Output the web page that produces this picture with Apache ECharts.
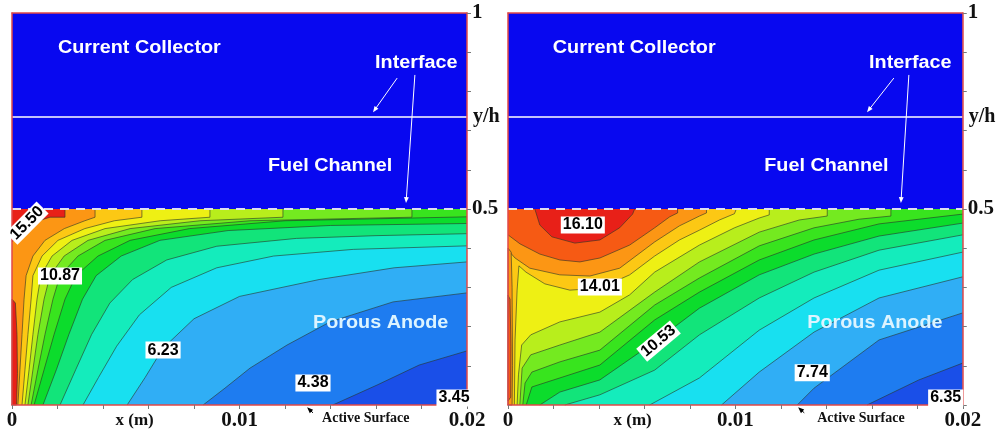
<!DOCTYPE html>
<html lang="en">
<head>
<meta charset="utf-8">
<script src="https://cdn.jsdelivr.net/npm/echarts@6/dist/echarts.min.js"></script>
<style>
    * { margin: 0; padding: 0; }
    body { background: #fff; }
</style>
</head>
<body>
<div id="main" style="width:997px;height:432px;"></div>
<script>
// x is in mm along the cell (axis labels show metres), y is y/h
var channelBlue = '#0808f0';
var frameRed = '#e04848';
var lineColor = 'rgba(40,50,40,0.75)';
var anodeTop = 0.5;
var interfaceY = 0.735;

// colour of each contour band, lowest to highest
var bandColors = ['#1a4fe8', '#1e7cf0', '#30aef5', '#18e0f0', '#14ecbc', '#12e47a', '#0ee050', '#0cdc2c',
    '#38e41e', '#74ea20', '#b8ee1c', '#eef014', '#fcc814', '#fc9614', '#f65a14', '#e82018'];

// ---- left panel ----
var leftLevels = [4.38, 5.30, 6.23, 7.16, 8.08, 9.01, 9.94, 10.87, 11.79, 12.72, 13.65, 14.57, 15.50];
var leftBand = [1, 2, 3, 4, 5, 7, 8, 9, 10, 11, 12, 13, 15];
var leftLines = [
    [[14.1, 0], [16.05, 0.051], [17.9, 0.102], [20, 0.138]],
    [[8.40, 0], [9.36, 0.043], [10.46, 0.094], [12.09, 0.153], [13.98, 0.212], [16.75, 0.263], [20, 0.286]],
    [[5.06, 0], [5.85, 0.07], [6.64, 0.145], [8.0, 0.22], [10.0, 0.277], [13.5, 0.32], [16.8, 0.35], [20, 0.365]],
    [[3.12, 0], [3.8, 0.07], [4.6, 0.15], [5.6, 0.23], [7.0, 0.30], [9.0, 0.35], [11.5, 0.38], [15, 0.397], [20, 0.406]],
    [[2.11, 0], [2.8, 0.09], [3.5, 0.18], [4.3, 0.26], [5.3, 0.32], [6.8, 0.37], [9, 0.405], [12.5, 0.425], [16, 0.432], [20, 0.437]],
    [[1.36, 0], [1.95, 0.09], [2.5, 0.18], [3.1, 0.27], [3.7, 0.33], [4.8, 0.38], [6.5, 0.42], [9.5, 0.445], [14, 0.458], [20, 0.463]],
    [[0.97, 0], [1.41, 0.09], [1.85, 0.18], [2.33, 0.27], [2.81, 0.33], [3.78, 0.38], [5.19, 0.42], [7.8, 0.45], [12, 0.47], [20, 0.48]],
    [[0.84, 0], [1.14, 0.09], [1.45, 0.18], [1.80, 0.27], [2.11, 0.33], [2.90, 0.38], [4.09, 0.42], [6.29, 0.45], [10.46, 0.47], [17.58, 0.479], [17.58, 0.5]],
    [[0.70, 0], [0.92, 0.09], [1.14, 0.18], [1.41, 0.27], [1.67, 0.33], [2.29, 0.38], [3.34, 0.42], [5.19, 0.45], [8.26, 0.47], [11.91, 0.479], [11.91, 0.5]],
    [[0.57, 0], [0.75, 0.09], [0.92, 0.18], [1.10, 0.27], [1.27, 0.33], [1.76, 0.38], [2.64, 0.42], [4.09, 0.45], [6.51, 0.47], [8.70, 0.479], [8.70, 0.5]],
    [[0.44, 0], [0.57, 0.09], [0.70, 0.18], [0.84, 0.27], [0.92, 0.33], [1.32, 0.38], [2.02, 0.42], [3.2, 0.45], [4.5, 0.47], [5.71, 0.479], [5.71, 0.5]],
    [[0.26, 0], [0.35, 0.09], [0.44, 0.18], [0.53, 0.27], [0.62, 0.33], [0.92, 0.38], [1.45, 0.42], [2.3, 0.45], [3.2, 0.47], [3.65, 0.479], [3.65, 0.5]],
    [[0, 0.416], [0.44, 0.441], [1.01, 0.467], [1.67, 0.479], [2.33, 0.479], [2.33, 0.5]]
];
var leftPieces = [
    [12, [[0, 0], [0, 0.27], [0.15, 0.26], [0.22, 0.18], [0.24, 0.08], [0.2, 0]]]
];
var leftTags = [[15.50, 0.66, 0.464, 45], [10.87, 2.11, 0.329, 0], [6.23, 6.64, 0.140, 0], [4.38, 13.23, 0.056, 0], [3.45, 19.43, 0.018, 0]];
var leftNotes = [
    ['Current Collector', 2.02, 0.910, 'zone'], ['Interface', 15.96, 0.873, 'zone'],
    ['Fuel Channel', 11.25, 0.610, 'zone'], ['Porous Anode', 13.23, 0.209, 'anode'],
    ['x (m)', 5.39, -0.041, 'axis'], ['Active Surface', 13.63, -0.033, 'small'], ['y/h', 20.26, 0.735, 'yh']
];
var leftArrows = [[16.93, 0.834, 15.87, 0.747, '#fff'], [17.71, 0.842, 17.32, 0.515, '#fff'], [13.23, -0.020, 12.97, -0.006, '#000']];

// ---- right panel ----
var rightLevels = [7.05, 7.74, 8.44, 9.14, 9.83, 10.53, 11.23, 11.92, 12.62, 13.31, 14.01, 14.71, 15.40, 16.10];
var rightBand = [1, 2, 3, 4, 5, 7, 8, 9, 10, 11, 12, 13, 14, 15];
var rightLines = [
    [[15.79, 0], [18.07, 0.064], [20, 0.107]],
    [[12.72, 0], [13.46, 0.043], [16.32, 0.166], [20, 0.235]],
    [[9.39, 0], [11.05, 0.084], [13.46, 0.186], [16.32, 0.273], [20, 0.327]],
    [[6.23, 0], [8.42, 0.069], [11.05, 0.191], [13.46, 0.273], [16.32, 0.344], [20, 0.390]],
    [[2.50, 0], [4.04, 0.026], [6.45, 0.089], [8.42, 0.179], [11.05, 0.273], [13.46, 0.339], [16.32, 0.395], [20, 0.434]],
    [[1.40, 0], [2.28, 0.033], [4.04, 0.064], [6.45, 0.161], [8.42, 0.247], [11.05, 0.332], [13.46, 0.385], [16.32, 0.431], [20, 0.464]],
    [[0.80, 0], [1.05, 0.046], [2.28, 0.069], [4.04, 0.102], [6.45, 0.217], [8.42, 0.288], [11.05, 0.370], [13.46, 0.421], [16.32, 0.462], [20, 0.487]],
    [[0.65, 0], [0.75, 0.056], [1.05, 0.084], [2.28, 0.110], [4.04, 0.140], [6.45, 0.255], [8.42, 0.324], [11.05, 0.406], [13.46, 0.452], [15.44, 0.474], [16.84, 0.482], [16.84, 0.5]],
    [[0.52, 0], [0.62, 0.094], [1.0, 0.128], [2.28, 0.153], [4.04, 0.186], [6.45, 0.288], [8.42, 0.365], [11.05, 0.441], [12.81, 0.472], [14.04, 0.482], [14.04, 0.5]],
    [[0.40, 0], [0.46, 0.077], [0.60, 0.153], [1.0, 0.179], [2.28, 0.212], [4.04, 0.237], [5.35, 0.281], [6.45, 0.339], [8.42, 0.408], [9.96, 0.452], [11.05, 0.477], [11.49, 0.485], [11.49, 0.5]],
    [[0.28, 0], [0.31, 0.166], [0.40, 0.293], [0.48, 0.355], [0.79, 0.339], [1.62, 0.309], [2.72, 0.293], [4.04, 0.298], [5.35, 0.332], [6.45, 0.380], [7.54, 0.421], [8.42, 0.446], [9.30, 0.472], [9.96, 0.488], [10.04, 0.5]],
    [[0, 0.395], [0.31, 0.375], [0.96, 0.349], [2.28, 0.332], [3.60, 0.329], [4.91, 0.349], [6.45, 0.416], [7.54, 0.457], [8.42, 0.482], [8.73, 0.490], [8.73, 0.5]],
    [[0, 0.434], [0.53, 0.411], [1.40, 0.385], [2.28, 0.370], [3.16, 0.365], [4.04, 0.375], [5.35, 0.408], [6.45, 0.452], [7.11, 0.480], [7.46, 0.490], [7.46, 0.5]],
    [[1.18, 0.5], [1.40, 0.459], [1.93, 0.429], [2.94, 0.413], [4.04, 0.421], [4.91, 0.452], [5.48, 0.487], [5.57, 0.5]]
];
var rightPieces = [
    [11, [[0, 0], [0, 0.40], [0.14, 0.39], [0.18, 0.3], [0.2, 0.1], [0.18, 0]]],
    [12, [[0, 0.01], [0, 0.28], [0.09, 0.27], [0.13, 0.15], [0.12, 0.02]]]
];
var rightTags = [[16.10, 3.29, 0.459, 0], [14.01, 4.04, 0.301, 0], [10.53, 6.62, 0.163, 40], [7.74, 13.38, 0.082, 0], [6.35, 19.25, 0.018, 0]];
var rightNotes = [
    ['Current Collector', 1.97, 0.910, 'zone'], ['Interface', 15.88, 0.873, 'zone'],
    ['Fuel Channel', 11.27, 0.610, 'zone'], ['Porous Anode', 13.16, 0.209, 'anode'],
    ['x (m)', 5.48, -0.041, 'axis'], ['Active Surface', 13.6, -0.033, 'small'], ['y/h', 20.26, 0.735, 'yh']
];
var rightArrows = [[16.97, 0.834, 15.79, 0.747, '#fff'], [17.63, 0.842, 17.28, 0.515, '#fff'], [13.03, -0.020, 12.76, -0.006, '#000']];

var noteStyle = {
    zone: { font: 'bold 18px "Liberation Sans"', fill: '#fff', align: 'left', sx: 1.1 },
    anode: { font: 'bold 18px "Liberation Sans"', fill: '#dcf4ff', align: 'left', sx: 1.1 },
    axis: { font: 'bold 17px "Liberation Serif"', fill: '#111', align: 'center', sx: 1 },
    small: { font: 'bold 14px "Liberation Serif"', fill: '#111', align: 'left', sx: 1 },
    yh: { font: 'bold 20px "Liberation Serif"', fill: '#111', align: 'left', sx: 1 }
};

function buildShapes(lines, bands, pieces) {
    var shapes = [];
    shapes.push({ kind: 'area', pts: [[0, anodeTop], [0, 1], [20, 1], [20, anodeTop]], fill: channelBlue });
    shapes.push({ kind: 'area', pts: [[0, 0], [20, 0], [20, anodeTop], [0, anodeTop]], fill: bandColors[0] });
    lines.forEach(function (line, i) {
        var first = line[0], last = line[line.length - 1];
        var close = [];
        if (last[0] === 20 && last[1] < anodeTop) close.push([20, anodeTop]);
        if (first[1] !== anodeTop) {
            close.push([0, anodeTop]);
            if (first[1] === 0 && first[0] > 0) close.push([0, 0]);
        }
        shapes.push({ kind: 'band', pts: line.concat(close), edge: line, fill: bandColors[bands[i]] });
        pieces.forEach(function (p) {
            if (p[0] === i) {
                shapes.push({ kind: 'band', pts: p[1], edge: p[1].concat([p[1][0]]), fill: bandColors[bands[i]] });
            }
        });
    });
    shapes.push({ kind: 'rule', pts: [[0, interfaceY], [20, interfaceY]], color: '#ffffff', width: 1.5 });
    shapes.push({ kind: 'rule', pts: [[0, anodeTop], [20, anodeTop]], color: '#dcdcf2', width: 2, dash: [9, 7] });
    return shapes;
}

function fieldSeries(axisIdx, shapes) {
    return {
        type: 'custom',
        xAxisIndex: axisIdx,
        yAxisIndex: axisIdx,
        z: 2,
        silent: true,
        clip: false,
        data: shapes.map(function (s, i) { return [i, 0]; }),
        renderItem: function (params, api) {
            var s = shapes[params.dataIndex];
            var toPx = function (p) { return api.coord(p); };
            if (s.kind === 'rule') {
                var a = toPx(s.pts[0]), b = toPx(s.pts[1]);
                return {
                    type: 'line',
                    shape: { x1: a[0], y1: a[1], x2: b[0], y2: b[1] },
                    style: { stroke: s.color, lineWidth: s.width, lineDash: s.dash || null }
                };
            }
            var children = [{
                type: 'polygon',
                shape: { points: s.pts.map(toPx) },
                style: { fill: s.fill, stroke: null }
            }];
            if (s.edge) {
                children.push({
                    type: 'polyline',
                    shape: { points: s.edge.map(toPx) },
                    style: { stroke: lineColor, lineWidth: 0.8, fill: null }
                });
            }
            return { type: 'group', children: children };
        }
    };
}

function notesSeries(axisIdx, tags, notes, arrows) {
    var items = [];
    arrows.forEach(function (a) { items.push({ kind: 'arrow', v: a }); });
    notes.forEach(function (n) { items.push({ kind: 'note', v: n }); });
    tags.forEach(function (t) { items.push({ kind: 'tag', v: t }); });
    return {
        type: 'custom',
        xAxisIndex: axisIdx,
        yAxisIndex: axisIdx,
        z: 6,
        silent: true,
        clip: false,
        data: items.map(function (s, i) { return [i, 0]; }),
        renderItem: function (params, api) {
            var it = items[params.dataIndex], v = it.v;
            if (it.kind === 'arrow') {
                var p1 = api.coord([v[0], v[1]]), p2 = api.coord([v[2], v[3]]);
                var dx = p2[0] - p1[0], dy = p2[1] - p1[1];
                var len = Math.sqrt(dx * dx + dy * dy), ux = dx / len, uy = dy / len;
                var h = 6, w = 2.4;
                return {
                    type: 'group',
                    children: [{
                        type: 'line',
                        shape: { x1: p1[0], y1: p1[1], x2: p2[0] - ux * 3, y2: p2[1] - uy * 3 },
                        style: { stroke: v[4], lineWidth: 1 }
                    }, {
                        type: 'polygon',
                        shape: { points: [p2, [p2[0] - ux * h - uy * w, p2[1] - uy * h + ux * w], [p2[0] - ux * h + uy * w, p2[1] - uy * h - ux * w]] },
                        style: { fill: v[4], stroke: null }
                    }]
                };
            }
            if (it.kind === 'note') {
                var p = api.coord([v[1], v[2]]), st = noteStyle[v[3]];
                return {
                    type: 'text', x: p[0], y: p[1], scaleX: st.sx,
                    style: { text: v[0], font: st.font, fill: st.fill, align: st.align, verticalAlign: 'middle' }
                };
            }
            var q = api.coord([v[1], v[2]]);
            return {
                type: 'text', x: q[0], y: q[1], rotation: v[3] * Math.PI / 180,
                style: {
                    text: v[0].toFixed(2), font: 'bold 16px "Liberation Sans"', fill: '#000',
                    align: 'center', verticalAlign: 'middle', backgroundColor: '#fff', padding: [1, 2, 0, 2]
                }
            };
        }
    };
}

function axisX(g, pos, labels) {
    return {
        type: 'value', gridIndex: g, position: pos, min: 0, max: 20, interval: 2, z: 4,
        axisLine: { show: true, onZero: false, lineStyle: { color: frameRed, width: 1.5 } },
        axisTick: { show: labels, length: 4, lineStyle: { color: '#777' } },
        axisLabel: {
            show: labels, margin: 5, color: '#111',
            fontFamily: 'Liberation Serif', fontWeight: 'bold', fontSize: 21,
            formatter: function (v) {
                if (v === 0) return '0';
                if (v === 10) return '0.01';
                if (v === 20) return '0.02';
                return '';
            }
        },
        splitLine: { show: false }
    };
}

function axisY(g, pos, labels) {
    return {
        type: 'value', gridIndex: g, position: pos, min: 0, max: 1, interval: 0.1, z: 4,
        axisLine: { show: true, onZero: false, lineStyle: { color: frameRed, width: 1.5 } },
        axisTick: { show: labels, length: 4, lineStyle: { color: '#777' } },
        axisLabel: {
            show: labels, margin: 5, color: '#111',
            fontFamily: 'Liberation Serif', fontWeight: 'bold', fontSize: 21,
            formatter: function (v) {
                if (Math.abs(v - 1) < 1e-6) return '1';
                if (Math.abs(v - 0.5) < 1e-6) return '0.5';
                return '';
            }
        },
        splitLine: { show: false }
    };
}

var myChart = echarts.init(document.getElementById('main'));
var option = {
    animation: false,
    grid: [
        { left: 12, top: 13, width: 455, height: 392 },
        { left: 508, top: 13, width: 456, height: 392 }
    ],
    xAxis: [axisX(0, 'bottom', true), axisX(0, 'top', false), axisX(1, 'bottom', true), axisX(1, 'top', false)],
    yAxis: [axisY(0, 'right', true), axisY(0, 'left', false), axisY(1, 'right', true), axisY(1, 'left', false)],
    series: [
        fieldSeries(0, buildShapes(leftLines, leftBand, leftPieces)),
        notesSeries(0, leftTags, leftNotes, leftArrows),
        fieldSeries(2, buildShapes(rightLines, rightBand, rightPieces)),
        notesSeries(2, rightTags, rightNotes, rightArrows)
    ]
};
myChart.setOption(option);
</script>
</body>
</html>
